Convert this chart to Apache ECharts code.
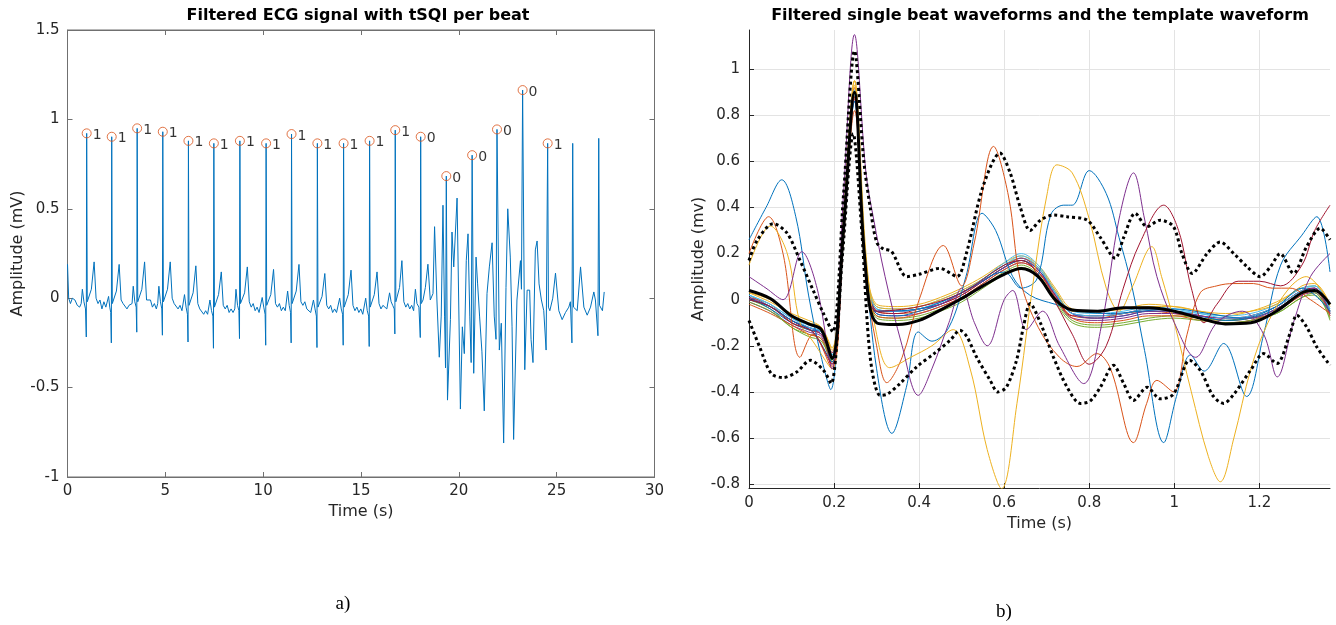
<!DOCTYPE html>
<html><head><meta charset="utf-8">
<script src="https://cdn.jsdelivr.net/npm/echarts@6/dist/echarts.min.js"></script>
<style>html,body{margin:0;padding:0;background:#fff}#c{width:1336px;height:625px}</style>
</head><body><div id="c"></div>
<script>
// ---------- (a) filtered ECG signal: [time s, amplitude mV] ----------
const ecgSignal = [
[0,0.19],[0.06,0.0],[0.15,-0.03],[0.25,0.0],[0.38,-0.01],[0.50,-0.04],[0.62,-0.05],
[0.70,-0.03],[0.76,0.05],[0.84,-0.02],[0.92,-0.06],[0.96,-0.217],[0.98,0.922],[1.01,-0.02],[1.10,-0.01],[1.22,0.05],[1.36,0.203],[1.46,0.0],[1.56,-0.03],[1.66,-0.01],[1.76,-0.06],[1.86,-0.02],[1.96,-0.05],
[2.04,-0.04],[2.10,0.01],[2.16,-0.05],[2.21,-0.08],[2.24,-0.25],[2.26,0.903],[2.29,-0.03],[2.38,-0.02],[2.50,0.04],[2.64,0.189],[2.74,-0.01],[2.84,-0.03],[2.94,-0.02],[3.04,-0.06],[3.14,-0.04],[3.24,-0.05],
[3.30,-0.03],[3.36,0.067],[3.44,-0.02],[3.51,-0.05],[3.54,-0.19],[3.56,0.95],[3.59,-0.02],[3.68,-0.01],[3.80,0.05],[3.94,0.203],[4.04,-0.01],[4.14,-0.02],[4.24,-0.01],[4.34,-0.05],[4.44,-0.03],[4.54,-0.06],
[4.61,-0.03],[4.67,0.067],[4.75,-0.02],[4.82,-0.06],[4.85,-0.207],[4.87,0.931],[4.90,-0.02],[4.99,-0.02],[5.11,0.05],[5.25,0.203],[5.35,0.0],[5.45,-0.03],[5.55,-0.02],[5.65,-0.06],[5.75,-0.04],[5.85,-0.07],
[5.92,-0.06],[5.98,0.02],[6.06,-0.05],[6.13,-0.09],[6.16,-0.245],[6.18,0.88],[6.21,-0.04],[6.30,-0.03],[6.42,0.03],[6.56,0.181],[6.66,-0.03],[6.76,-0.06],[6.86,-0.05],[6.96,-0.09],[7.06,-0.07],[7.16,-0.09],
[7.22,-0.08],[7.28,-0.01],[7.36,-0.07],[7.43,-0.10],[7.46,-0.28],[7.48,0.866],[7.51,-0.05],[7.60,-0.04],[7.72,0.02],[7.86,0.147],[7.96,-0.04],[8.06,-0.06],[8.16,-0.04],[8.26,-0.08],[8.36,-0.06],[8.46,-0.08],
[8.55,-0.06],[8.61,0.05],[8.69,-0.04],[8.76,-0.07],[8.79,-0.226],[8.81,0.88],[8.84,-0.03],[8.93,-0.03],[9.05,0.03],[9.19,0.175],[9.29,-0.02],[9.39,-0.05],[9.49,-0.03],[9.59,-0.07],[9.69,-0.05],[9.79,-0.08],
[9.89,-0.07],[9.95,0.004],[10.03,-0.05],[10.10,-0.09],[10.13,-0.263],[10.15,0.866],[10.18,-0.04],[10.27,-0.03],[10.39,0.02],[10.53,0.161],[10.63,-0.03],[10.73,-0.05],[10.83,-0.03],[10.93,-0.07],[11.03,-0.05],[11.13,-0.07],
[11.19,-0.06],[11.25,0.04],[11.33,-0.04],[11.40,-0.08],[11.43,-0.25],[11.45,0.918],[11.48,-0.03],[11.57,-0.02],[11.69,0.04],[11.83,0.189],[11.93,-0.02],[12.03,-0.04],[12.13,-0.02],[12.23,-0.06],[12.33,-0.05],[12.43,-0.08],
[12.51,-0.07],[12.57,-0.01],[12.65,-0.06],[12.72,-0.10],[12.75,-0.276],[12.77,0.866],[12.80,-0.05],[12.89,-0.04],[13.01,0.01],[13.15,0.138],[13.25,-0.04],[13.35,-0.06],[13.45,-0.04],[13.55,-0.08],[13.65,-0.06],[13.75,-0.08],
[13.85,-0.07],[13.91,0.0],[13.99,-0.06],[14.06,-0.09],[14.09,-0.263],[14.11,0.866],[14.14,-0.05],[14.23,-0.04],[14.35,0.02],[14.49,0.157],[14.59,-0.04],[14.69,-0.07],[14.79,-0.05],[14.89,-0.08],[14.99,-0.06],[15.09,-0.09],
[15.18,-0.08],[15.24,0.0],[15.32,-0.07],[15.39,-0.10],[15.42,-0.27],[15.44,0.88],[15.47,-0.05],[15.56,-0.04],[15.68,0.02],[15.82,0.147],[15.92,-0.03],[16.02,-0.06],[16.12,-0.04],[16.22,-0.03],[16.32,-0.06],[16.46,0.03],
[16.54,-0.02],[16.62,-0.04],[16.70,-0.06],[16.73,-0.20],[16.75,0.94],[16.78,-0.02],[16.87,-0.01],[16.97,0.06],[17.09,0.21],[17.19,-0.02],[17.29,-0.05],[17.39,-0.03],[17.49,-0.06],[17.59,-0.04],[17.69,-0.07],
[17.78,0.05],[17.86,-0.03],[17.96,-0.05],[18.03,-0.22],[18.05,0.903],[18.08,-0.03],[18.17,-0.01],[18.29,0.06],[18.42,0.19],[18.54,-0.01],[18.68,0.026],
[18.76,0.40],[18.88,-0.01],[19.0,-0.33],[19.10,-0.10],[19.19,0.52],[19.27,-0.10],[19.32,-0.39],[19.36,0.683],[19.42,-0.57],[19.57,-0.12],[19.65,0.37],[19.74,0.175],[19.91,0.56],[20.08,-0.62],[20.18,-0.16],[20.28,-0.31],[20.38,0.21],[20.47,0.36],[20.56,-0.10],[20.63,-0.36],[20.68,0.80],[20.76,-0.42],[20.88,0.23],[20.96,0.08],[21.06,-0.10],[21.18,-0.30],[21.30,-0.63],[21.44,0.026],[21.56,0.175],[21.70,0.31],[21.81,-0.10],[21.90,-0.23],[21.95,0.944],[22.07,-0.29],[22.17,-0.14],[22.29,-0.81],[22.41,0.06],[22.50,0.50],[22.63,0.23],[22.72,-0.16],[22.80,-0.79],[22.97,-0.01],[23.15,0.21],[23.20,0.05],[23.26,1.164],[23.37,-0.40],[23.49,0.045],[23.62,0.045],[23.69,-0.23],[23.79,-0.36],[23.91,0.27],[24.0,0.32],[24.10,0.08],[24.22,-0.01],[24.34,-0.07],[24.46,-0.29],[24.54,0.866],
[24.58,-0.05],[24.65,-0.07],[24.80,0.0],[24.94,0.14],[25.11,-0.07],[25.28,-0.12],[25.45,-0.08],[25.62,-0.05],[25.70,-0.02],[25.78,-0.25],[25.82,0.866],[25.86,-0.05],[26.05,-0.07],[26.22,0.175],[26.39,-0.05],[26.56,-0.095],[26.73,-0.05],[26.90,0.035],[26.98,-0.01],[27.11,-0.21],[27.15,0.894],[27.19,-0.04],[27.34,-0.07],[27.43,0.035]
];
const beatTimes = [0.98,2.26,3.56,4.87,6.18,7.48,8.81,10.15,11.45,12.77,14.11,15.44,16.75,18.05,19.36,20.68,21.95,23.26,24.54];
const beatAmps  = [0.922,0.903,0.95,0.931,0.88,0.866,0.88,0.866,0.918,0.866,0.866,0.88,0.94,0.903,0.683,0.80,0.944,1.164,0.866];
const tsqi      = [1,1,1,1,1,1,1,1,1,1,1,1,1,0,0,0,0,0,1];
const xTicksA = [0,30,5];
const yTicksA = [-1,1.5,0.5];

// ---------- (b) single beats on a common time grid (s) ----------
const beatGrid = [0,0.05,0.10,0.14,0.17,0.195,0.222,0.248,0.272,0.30,0.35,0.40,0.45,0.50,0.55,0.60,0.64,0.68,0.72,0.76,0.82,0.88,0.94,1.00,1.06,1.12,1.18,1.24,1.30,1.33,1.366];
const templateBeat = [0.04,0.005,-0.07,-0.105,-0.13,-0.255,0.30,0.90,0.18,-0.10,-0.108,-0.09,-0.045,0.005,0.06,0.11,0.135,0.10,0.0,-0.045,-0.05,-0.035,-0.035,-0.05,-0.08,-0.105,-0.10,-0.05,0.03,0.04,-0.02];
const beat01 = [0.02,-0.03,-0.09,-0.12,-0.14,-0.24,0.30,0.88,0.20,-0.04,-0.05,-0.04,-0.01,0.03,0.09,0.15,0.18,0.14,0.03,-0.06,-0.07,-0.06,-0.04,-0.05,-0.07,-0.09,-0.07,-0.03,0.04,0.05,-0.05];
const beat02 = [0.01,-0.02,-0.10,-0.13,-0.15,-0.27,0.28,0.92,0.22,-0.05,-0.06,-0.05,-0.02,0.02,0.08,0.14,0.17,0.13,0.02,-0.07,-0.08,-0.06,-0.05,-0.06,-0.08,-0.09,-0.08,-0.04,0.03,0.04,-0.06];
const beat03 = [0.03,-0.01,-0.06,-0.09,-0.12,-0.22,0.33,0.95,0.24,-0.02,-0.03,-0.02,0.01,0.05,0.10,0.16,0.19,0.15,0.05,-0.04,-0.05,-0.04,-0.02,-0.03,-0.05,-0.07,-0.05,-0.01,0.05,0.06,-0.03];
const beat04 = [-0.01,-0.05,-0.11,-0.14,-0.16,-0.28,0.27,0.90,0.19,-0.06,-0.07,-0.06,-0.03,0.01,0.07,0.13,0.16,0.12,0.01,-0.08,-0.09,-0.08,-0.06,-0.06,-0.08,-0.10,-0.09,-0.05,0.02,0.03,-0.07];
const beat05 = [0.0,-0.04,-0.12,-0.15,-0.17,-0.26,0.29,0.89,0.20,-0.07,-0.08,-0.07,-0.04,0.0,0.06,0.12,0.15,0.11,0.0,-0.09,-0.11,-0.10,-0.08,-0.07,-0.08,-0.09,-0.08,-0.06,0.01,0.02,-0.08];
const beat06 = [0.02,-0.02,-0.08,-0.11,-0.13,-0.25,0.31,0.91,0.21,-0.03,-0.04,-0.03,0.0,0.04,0.09,0.16,0.20,0.15,0.04,-0.05,-0.06,-0.05,-0.03,-0.04,-0.06,-0.07,-0.06,-0.02,0.05,0.06,-0.04];
const beat07 = [0.0,-0.03,-0.09,-0.13,-0.15,-0.23,0.29,0.87,0.19,-0.05,-0.06,-0.04,-0.02,0.02,0.08,0.14,0.17,0.12,0.02,-0.07,-0.07,-0.06,-0.04,-0.05,-0.07,-0.08,-0.07,-0.03,0.04,0.05,-0.05];
const beat08 = [0.01,-0.04,-0.10,-0.13,-0.14,-0.26,0.28,0.86,0.20,-0.06,-0.07,-0.05,-0.02,0.03,0.08,0.14,0.17,0.13,0.03,-0.06,-0.08,-0.07,-0.05,-0.05,-0.07,-0.09,-0.08,-0.04,0.03,0.04,-0.06];
const beat09 = [-0.02,-0.06,-0.11,-0.15,-0.17,-0.29,0.26,0.88,0.18,-0.07,-0.08,-0.06,-0.03,0.01,0.07,0.13,0.16,0.12,0.01,-0.08,-0.10,-0.09,-0.07,-0.07,-0.09,-0.10,-0.09,-0.05,0.02,0.04,-0.07];
const beat10 = [0.03,0.0,-0.07,-0.10,-0.12,-0.21,0.32,0.93,0.23,-0.03,-0.04,-0.03,0.0,0.04,0.09,0.15,0.18,0.14,0.04,-0.05,-0.05,-0.04,-0.03,-0.03,-0.05,-0.06,-0.05,-0.02,0.06,0.07,-0.02];
const beat11 = [0.01,-0.03,-0.09,-0.12,-0.15,-0.25,0.30,0.90,0.21,-0.05,-0.05,-0.04,-0.02,0.03,0.08,0.14,0.18,0.13,0.02,-0.06,-0.08,-0.07,-0.05,-0.05,-0.07,-0.08,-0.08,-0.04,0.03,0.05,-0.06];
const beat12 = [-0.01,-0.05,-0.12,-0.16,-0.18,-0.27,0.27,0.88,0.19,-0.08,-0.09,-0.08,-0.05,-0.01,0.05,0.11,0.14,0.10,-0.01,-0.10,-0.12,-0.11,-0.09,-0.08,-0.09,-0.10,-0.09,-0.06,0.01,0.03,-0.09];
const beat13 = [0.02,-0.02,-0.08,-0.12,-0.14,-0.24,0.30,0.89,0.20,-0.04,-0.05,-0.04,-0.01,0.03,0.09,0.15,0.19,0.14,0.03,-0.06,-0.07,-0.06,-0.04,-0.05,-0.06,-0.08,-0.07,-0.03,0.04,0.06,-0.05];
// noisy beats: [time s, amplitude mV]
const noisyBeatA = [[0,0.26],[0.04,0.40],[0.077,0.52],[0.11,0.36],[0.14,0.02],[0.17,-0.25],[0.192,-0.39],[0.22,0.25],[0.248,0.86],[0.275,0.15],[0.30,-0.30],[0.336,-0.58],[0.37,-0.38],[0.398,-0.14],[0.43,-0.18],[0.47,-0.12],[0.51,0.1],[0.548,0.375],[0.58,0.30],[0.62,0.10],[0.66,0.02],[0.72,-0.02],[0.78,-0.05],[0.85,-0.06],[0.92,-0.05],[1.0,-0.04],[1.08,-0.06],[1.16,-0.08],[1.24,-0.03],[1.30,0.05],[1.366,-0.05]];
const noisyBeatB = [[0,0.0],[0.05,-0.03],[0.10,-0.09],[0.15,-0.14],[0.195,-0.27],[0.222,0.3],[0.248,0.9],[0.272,0.2],[0.30,-0.05],[0.40,-0.04],[0.50,0.03],[0.60,0.12],[0.64,0.05],[0.677,0.09],[0.71,0.37],[0.74,0.41],[0.76,0.41],[0.80,0.56],[0.84,0.46],[0.87,0.27],[0.90,0.06],[0.93,-0.22],[0.975,-0.62],[1.005,-0.42],[1.038,-0.24],[1.07,-0.31],[1.116,-0.19],[1.17,-0.42],[1.21,-0.15],[1.25,0.15],[1.30,0.28],[1.335,0.36],[1.366,0.12]];
const noisyBeatC = [[0,0.2],[0.046,0.36],[0.08,0.2],[0.12,-0.25],[0.15,-0.15],[0.195,-0.3],[0.222,0.3],[0.248,0.82],[0.275,0.1],[0.30,-0.2],[0.324,-0.36],[0.36,-0.25],[0.40,0.0],[0.457,0.235],[0.50,0.06],[0.53,0.25],[0.575,0.665],[0.61,0.45],[0.638,0.085],[0.68,-0.12],[0.73,-0.25],[0.771,-0.29],[0.818,-0.234],[0.85,-0.3],[0.904,-0.62],[0.935,-0.45],[0.959,-0.35],[0.998,-0.40],[1.03,-0.15],[1.061,0.03],[1.10,0.06],[1.14,0.07],[1.186,0.07],[1.23,0.05],[1.272,0.05],[1.32,0.0],[1.366,-0.06]];
const noisyBeatD = [[0,0.15],[0.05,0.32],[0.09,0.2],[0.12,-0.1],[0.15,-0.18],[0.195,-0.3],[0.222,0.35],[0.248,0.95],[0.275,0.2],[0.30,-0.15],[0.331,-0.295],[0.38,-0.25],[0.43,-0.2],[0.48,-0.13],[0.52,-0.3],[0.56,-0.65],[0.594,-0.82],[0.63,-0.45],[0.67,0.1],[0.70,0.45],[0.724,0.585],[0.76,0.55],[0.80,0.35],[0.84,0.05],[0.87,-0.05],[0.90,0.05],[0.947,0.23],[0.97,0.1],[1.0,-0.1],[1.04,-0.4],[1.08,-0.68],[1.108,-0.79],[1.14,-0.6],[1.18,-0.3],[1.22,-0.1],[1.27,0.05],[1.31,0.1],[1.366,-0.02]];
const noisyBeatE = [[0,0.1],[0.04,0.05],[0.08,0.0],[0.124,0.208],[0.16,0.05],[0.195,-0.3],[0.222,0.45],[0.248,1.15],[0.275,0.55],[0.293,0.35],[0.32,0.1],[0.36,-0.2],[0.398,-0.415],[0.43,-0.3],[0.47,-0.1],[0.50,0.05],[0.53,-0.1],[0.56,-0.2],[0.60,0.0],[0.62,0.04],[0.652,-0.13],[0.69,-0.05],[0.73,-0.2],[0.787,-0.364],[0.83,-0.1],[0.87,0.35],[0.904,0.55],[0.93,0.35],[0.959,0.1],[1.0,-0.1],[1.05,-0.25],[1.10,-0.1],[1.16,-0.05],[1.21,-0.15],[1.242,-0.335],[1.28,-0.1],[1.32,0.1],[1.366,0.2]];
const noisyBeatF = [[0,0.0],[0.05,-0.03],[0.10,-0.10],[0.15,-0.14],[0.195,-0.28],[0.222,0.28],[0.248,0.88],[0.272,0.2],[0.30,-0.05],[0.40,-0.03],[0.50,0.03],[0.60,0.15],[0.64,0.17],[0.70,0.05],[0.76,-0.15],[0.80,-0.28],[0.84,-0.2],[0.88,0.05],[0.92,0.25],[0.975,0.41],[1.01,0.3],[1.04,0.05],[1.07,-0.1],[1.10,-0.02],[1.15,0.08],[1.20,0.08],[1.25,0.06],[1.30,0.15],[1.33,0.3],[1.366,0.41]];
const upperBound = [[0,0.17],[0.02,0.26],[0.057,0.33],[0.089,0.29],[0.12,0.17],[0.151,0.04],[0.175,-0.06],[0.197,-0.14],[0.222,0.45],[0.248,1.08],[0.27,0.6],[0.285,0.40],[0.30,0.25],[0.316,0.22],[0.335,0.21],[0.371,0.10],[0.40,0.11],[0.449,0.136],[0.489,0.10],[0.511,0.2],[0.55,0.49],[0.59,0.636],[0.614,0.55],[0.638,0.40],[0.661,0.30],[0.685,0.345],[0.716,0.367],[0.748,0.36],[0.795,0.345],[0.826,0.27],[0.861,0.18],[0.881,0.27],[0.908,0.375],[0.936,0.317],[0.967,0.345],[0.998,0.317],[1.018,0.2],[1.042,0.114],[1.077,0.20],[1.108,0.25],[1.14,0.2],[1.171,0.143],[1.202,0.1],[1.226,0.143],[1.249,0.2],[1.28,0.114],[1.311,0.23],[1.343,0.31],[1.366,0.26]];
const lowerBound = [[0,-0.09],[0.025,-0.205],[0.052,-0.32],[0.08,-0.338],[0.112,-0.314],[0.144,-0.263],[0.175,-0.306],[0.193,-0.364],[0.22,0.2],[0.245,0.72],[0.265,0.3],[0.285,-0.25],[0.308,-0.415],[0.325,-0.41],[0.355,-0.364],[0.395,-0.29],[0.435,-0.234],[0.473,-0.176],[0.496,-0.133],[0.512,-0.16],[0.535,-0.249],[0.567,-0.35],[0.585,-0.40],[0.605,-0.38],[0.629,-0.263],[0.645,-0.12],[0.661,-0.017],[0.685,-0.10],[0.716,-0.25],[0.748,-0.38],[0.779,-0.45],[0.802,-0.44],[0.826,-0.38],[0.857,-0.285],[0.881,-0.364],[0.904,-0.437],[0.936,-0.38],[0.967,-0.43],[0.998,-0.41],[1.036,-0.263],[1.061,-0.307],[1.092,-0.42],[1.116,-0.45],[1.14,-0.41],[1.179,-0.307],[1.21,-0.234],[1.241,-0.277],[1.272,-0.147],[1.288,-0.067],[1.311,-0.118],[1.335,-0.205],[1.366,-0.285]];
const xRangeB = [0,1.366];
const yRangeB = [-0.817,1.17];

// ---------- build ----------
const palette = ['#0072BD','#D95319','#EDB120','#7E2F8E','#77AC30','#4DBEEE','#A2142F'];
const FONT = 'DejaVu Sans';
const AX = '#262626';
const chart = echarts.init(document.getElementById('c'));

const series = [];
series.push({type:'line', xAxisIndex:0, yAxisIndex:0, data: ecgSignal, showSymbol:false, symbol:'none',
  lineStyle:{color:'#0072BD', width:1}, silent:true});
series.push({type:'scatter', xAxisIndex:0, yAxisIndex:0, symbol:'circle', symbolSize:9,
  data: beatTimes.map((t,i)=>[t, beatAmps[i], tsqi[i]]),
  itemStyle:{color:'rgba(0,0,0,0)', borderColor:'#D95319', borderWidth:1},
  label:{show:true, position:'right', distance:1, offset:[0,2], formatter:p=>String(p.value[2]),
    color:'#000', fontSize:14, fontFamily:FONT}, z:5});

const cleanBeats = [beat01,beat02,beat03,beat04,beat05,beat06,beat07,beat08,beat09,beat10,beat11,beat12,beat13];
const noisyBeats = [noisyBeatA,noisyBeatB,noisyBeatC,noisyBeatD,noisyBeatE,noisyBeatF];
const noisyColors = ['#0072BD','#0072BD','#D95319','#EDB120','#7E2F8E','#A2142F'];
cleanBeats.forEach((b,i)=>{
  series.push({type:'line', xAxisIndex:2, yAxisIndex:2, data: beatGrid.map((t,k)=>[t,b[k]]),
    showSymbol:false, symbol:'none', smooth:0.35, lineStyle:{color:palette[i%7], width:1}, z:2});
});
noisyBeats.forEach((b,i)=>{
  series.push({type:'line', xAxisIndex:2, yAxisIndex:2, data:b, showSymbol:false, symbol:'none',
    smooth:0.35, lineStyle:{color:noisyColors[i], width:1}, z:2});
});
[upperBound, lowerBound].forEach(b=>{
  series.push({type:'line', xAxisIndex:2, yAxisIndex:2, data:b, showSymbol:false, symbol:'none',
    smooth:0.3, lineStyle:{color:'#000', width:3, type:[3,3], cap:'butt'}, z:4});
});
series.push({type:'line', xAxisIndex:2, yAxisIndex:2, data: beatGrid.map((t,k)=>[t,templateBeat[k]]),
  showSymbol:false, symbol:'none', smooth:0.35, lineStyle:{color:'#000', width:3}, z:5});

const fmt = v => String(Math.round(v*100)/100);
const axLabel = (fs)=>({color:AX, fontSize:fs, fontFamily:FONT, formatter:fmt});
const grayLine = {show:true, onZero:false, lineStyle:{color:'#707070'}};
const grayTick = {inside:true, length:5, lineStyle:{color:'#707070'}};

const option = {
  animation:false,
  backgroundColor:'#fff',
  grid:[
    {left:67.5, top:30, width:587, height:447, show:true, borderColor:'#707070', borderWidth:1, backgroundColor:'#fff'},
    {left:749, top:30, width:581, height:458}
  ],
  xAxis:[
    {gridIndex:0, type:'value', min:xTicksA[0], max:xTicksA[1], interval:xTicksA[2], position:'bottom',
     axisLine:grayLine, axisTick:grayTick,
     axisLabel:{...axLabel(15), margin:7}, splitLine:{show:false},
     name:'Time (s)', nameLocation:'middle', nameGap:22, nameTextStyle:{color:AX, fontSize:16, fontFamily:FONT}},
    {gridIndex:0, type:'value', min:xTicksA[0], max:xTicksA[1], interval:xTicksA[2], position:'top',
     axisLine:grayLine, axisTick:grayTick,
     axisLabel:{show:false}, splitLine:{show:false}},
    {gridIndex:1, type:'value', min:xRangeB[0], max:xRangeB[1], splitNumber:7, position:'bottom',
     axisLine:{show:true, onZero:false, lineStyle:{color:AX}}, axisTick:{inside:true, length:5, lineStyle:{color:AX}},
     axisLabel:{...axLabel(15), margin:8, showMaxLabel:false},
     splitLine:{show:true, showMaxLine:false, lineStyle:{color:'#e3e3e3', width:1}},
     name:'Time (s)', nameLocation:'middle', nameGap:27, nameTextStyle:{color:AX, fontSize:16, fontFamily:FONT}}
  ],
  yAxis:[
    {gridIndex:0, type:'value', min:yTicksA[0], max:yTicksA[1], interval:yTicksA[2], position:'left',
     axisLine:grayLine, axisTick:grayTick,
     axisLabel:{...axLabel(15), margin:8}, splitLine:{show:false},
     name:'Amplitude (mV)', nameLocation:'middle', nameGap:40, nameTextStyle:{color:AX, fontSize:16, fontFamily:FONT}},
    {gridIndex:0, type:'value', min:yTicksA[0], max:yTicksA[1], interval:yTicksA[2], position:'right',
     axisLine:grayLine, axisTick:grayTick,
     axisLabel:{show:false}, splitLine:{show:false}},
    {gridIndex:1, type:'value', min:yRangeB[0], max:yRangeB[1], splitNumber:10, position:'left',
     axisLine:{show:true, onZero:false, lineStyle:{color:AX}}, axisTick:{inside:true, length:5, lineStyle:{color:AX}},
     axisLabel:{...axLabel(15), margin:9, showMinLabel:false, showMaxLabel:false},
     splitLine:{show:true, showMinLine:false, showMaxLine:false, lineStyle:{color:'#e3e3e3', width:1}},
     name:'Amplitude (mv)', nameLocation:'middle', nameGap:42, nameTextStyle:{color:AX, fontSize:16, fontFamily:FONT}}
  ],
  graphic:[
    {type:'text', x:358, y:16, style:{text:'Filtered ECG signal with tSQI per beat', font:'bold 16px "DejaVu Sans"', fill:'#000', textAlign:'center', textVerticalAlign:'middle'}},
    {type:'text', x:1040, y:16, style:{text:'Filtered single beat waveforms and the template waveform', font:'bold 16px "DejaVu Sans"', fill:'#000', textAlign:'center', textVerticalAlign:'middle'}},
    {type:'text', x:343, y:604, style:{text:'a)', font:'19px "Liberation Serif"', fill:'#000', textAlign:'center', textVerticalAlign:'middle'}},
    {type:'text', x:1004, y:612, style:{text:'b)', font:'19px "Liberation Serif"', fill:'#000', textAlign:'center', textVerticalAlign:'middle'}}
  ],
  series: series
};
chart.setOption(option);
</script></body></html>
